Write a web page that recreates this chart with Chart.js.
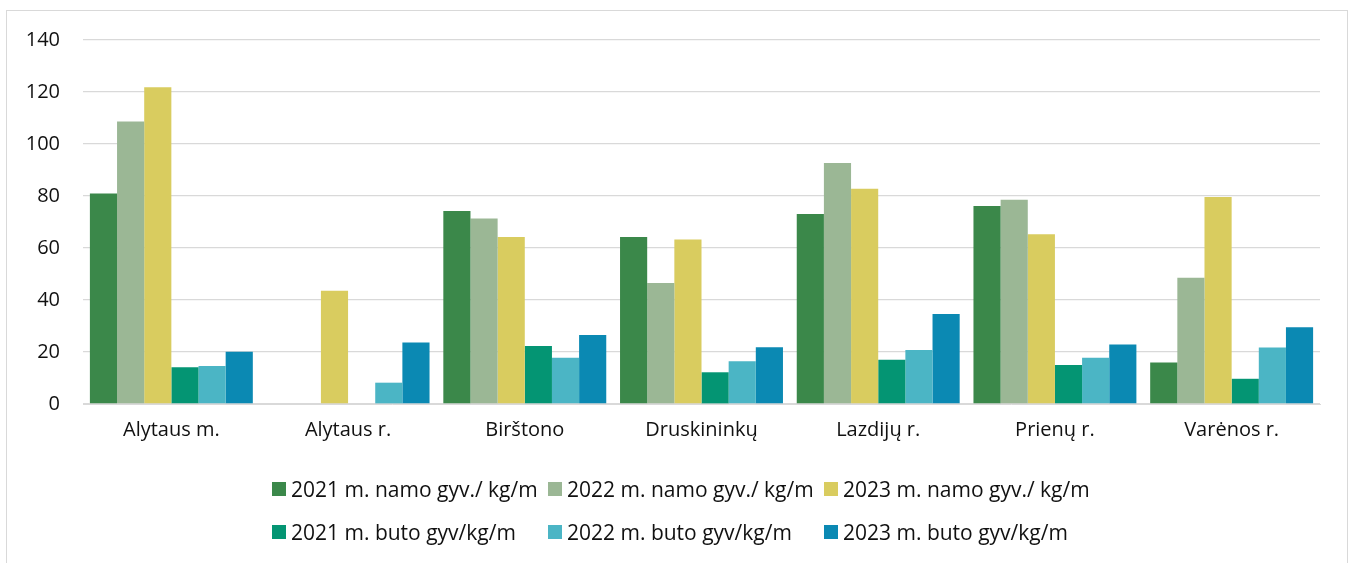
<!DOCTYPE html>
<html>
<head>
<meta charset="utf-8">
<script src="https://cdn.jsdelivr.net/npm/chart.js@4"></script>
<style>
  html, body { margin: 0; padding: 0; background: #fff; }
  body { width: 1353px; height: 563px; position: relative; overflow: hidden; font-family: "Open Sans", sans-serif; }
  #frame { position: absolute; left: 6px; top: 10px; width: 1342px; height: 600px; border: 1px solid #d9d9d9; box-sizing: border-box; }
  #wrap { position: absolute; left: 0; top: 0; width: 1353px; height: 563px; }
  #legend { position: absolute; left: 272px; top: 477px; display: grid; grid-template-columns: 276px 276px auto; row-gap: 19px; }
  .item { display: flex; align-items: center; height: 24px; font-size: 21px; color: #111; white-space: nowrap; }
  .box { width: 14px; height: 14px; margin-right: 5px; flex: none; }
</style>
</head>
<body>
<div id="frame"></div>
<div id="wrap"><canvas id="myChart"></canvas></div>
<div id="legend"></div>
<script>
const regions = ["Alytaus m.", "Alytaus r.", "Birštono", "Druskininkų", "Lazdijų r.", "Prienų r.", "Varėnos r."];
const yTicks = [0, 20, 40, 60, 80, 100, 120, 140];

const seriesNames = [
  "2021 m. namo gyv./ kg/m",
  "2022 m. namo gyv./ kg/m",
  "2023 m. namo gyv./ kg/m",
  "2021 m. buto gyv/kg/m",
  "2022 m. buto gyv/kg/m",
  "2023 m. buto gyv/kg/m"
];
const seriesColors = ["#3b884a", "#9bb795", "#d9cc5f", "#049573", "#4bb5c5", "#0b89b3"];

const namo2021 = [81, null, 74.2, 64.2, 73.1, 76.2, 16];
const namo2022 = [108.7, null, 71.3, 46.5, 92.7, 78.6, 48.6];
const namo2023 = [121.8, 43.6, 64.2, 63.3, 82.8, 65.3, 79.6];
const buto2021 = [14.1, null, 22.3, 12.2, 17, 15, 9.7];
const buto2022 = [14.6, 8.2, 17.8, 16.4, 20.8, 17.8, 21.7];
const buto2023 = [20.1, 23.7, 26.5, 21.8, 34.6, 22.9, 29.5];

const allSeries = [namo2021, namo2022, namo2023, buto2021, buto2022, buto2023];

const datasets = allSeries.map((vals, i) => ({
  label: seriesNames[i],
  data: vals,
  backgroundColor: seriesColors[i],
  borderWidth: 0,
  categoryPercentage: 0.922,
  barPercentage: 1
}));

const ctx = document.getElementById("myChart");
const txt = "#111";

new Chart(ctx, {
  type: "bar",
  data: { labels: regions, datasets: datasets },
  options: {
    responsive: true,
    maintainAspectRatio: false,
    animation: false,
    layout: { padding: { left: 0, right: 33, top: 40, bottom: 99 } },
    plugins: { legend: { display: false }, tooltip: { enabled: false } },
    scales: {
      x: {
        grid: { display: false, drawTicks: false },
        border: { color: "#d9d9d9", width: 1 },
        ticks: { color: txt, font: { family: "Open Sans", size: 20 }, padding: 14, maxRotation: 0 },
        afterFit: (s) => { s.height = 60; }
      },
      y: {
        min: 0, max: 140,
        grid: { color: "#d9d9d9", lineWidth: 1.3, drawTicks: false },
        border: { display: false },
        afterBuildTicks: (s) => { s.ticks = yTicks.map(v => ({ value: v })); },
        ticks: { color: txt, font: { family: "Open Sans", size: 20 }, padding: 23 },
        afterFit: (s) => { s.width = 83; }
      }
    }
  }
});

const legendEl = document.getElementById("legend");
seriesNames.forEach((name, i) => {
  const item = document.createElement("div");
  item.className = "item";
  const box = document.createElement("span");
  box.className = "box";
  box.style.background = seriesColors[i];
  const label = document.createElement("span");
  label.textContent = name;
  item.appendChild(box);
  item.appendChild(label);
  legendEl.appendChild(item);
});
</script>
</body>
</html>
